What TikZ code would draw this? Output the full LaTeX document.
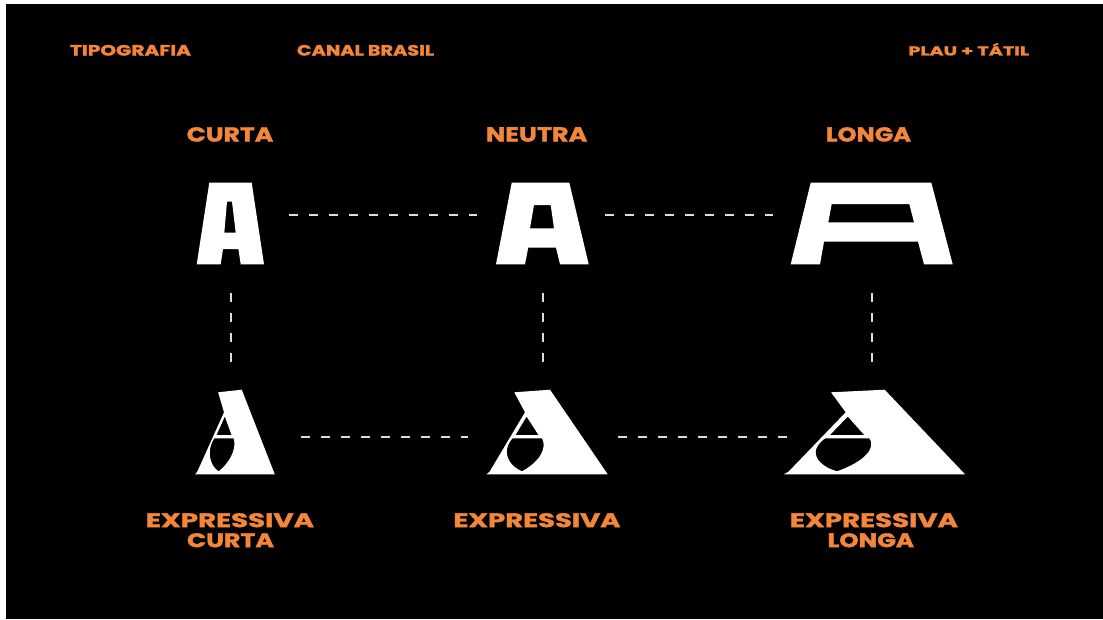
\documentclass[tikz,border=0pt]{standalone}
\usepackage{fontspec}
\usepackage{graphicx}
\newfontfamily\labfont{Poppins}[BoldFeatures={FakeBold=1.5}]
\definecolor{orng}{RGB}{244,134,58}
\definecolor{dashgray}{RGB}{222,222,222}
\newcommand\fitlbl[3]{\resizebox{#1}{#2}{\labfont\bfseries #3}}
\newcommand\expressiveA{%
  \path[glyph] (514.3,392.3) -- (550,389.7) -- (607.7,474.3) -- (486.5,474.3) -- (489.5,471.8) -- (525,412.3) -- cycle
    (526.6,416.5) -- (538.5,435) -- (515.5,435) -- cycle
    (512.5,438.3) -- (542,438.3) .. controls (547,447) and (541,461) .. (522,471.3)
      .. controls (509.5,466) and (505.8,456) .. (507,449)
      .. controls (508,444) and (510.5,440.5) .. (512.5,438.3) -- cycle;}
\tikzset{
  lbl/.style={anchor=south, inner sep=0pt, outer sep=0pt, text=orng},
  glyph/.style={fill=white, draw=none, even odd rule},
  link/.style={draw=dashgray, line width=2.6pt, dash pattern=on 9pt off 11pt},
}
\begin{document}
\begin{tikzpicture}[x=1pt,y=-1pt]
\useasboundingbox (0,0) rectangle (1103,619);
\fill[white] (0,0) rectangle (1103,619);
\fill[black] (6,4) rectangle (1103,619);

% header labels
\node[lbl] (h1) at (130.5,55.7) {\fitlbl{121pt}{10.7pt}{TIPOGRAFIA}};
\node[lbl] (h2) at (365.5,55.7) {\fitlbl{137pt}{10.7pt}{CANAL BRASIL}};
\node[lbl] (h3) at (968.7,55.5) {\resizebox{120.7pt}{12.4pt}{\labfont\bfseries PLAU + TÁTIL}};

% column titles
\node[lbl] (tc) at (230,141.7) {\fitlbl{86.6pt}{14.4pt}{CURTA}};
\node[lbl] (tn) at (536.7,141.7) {\fitlbl{101.3pt}{14.4pt}{NEUTRA}};
\node[lbl] (tl) at (868.5,141.7) {\fitlbl{85pt}{14.4pt}{LONGA}};

% bottom labels
\node[lbl] (be1) at (230,527.3) {\fitlbl{168pt}{14pt}{EXPRESSIVA}};
\node[lbl] (be2) at (230.5,547.3) {\fitlbl{87pt}{14pt}{CURTA}};
\node[lbl] (bn1) at (537,527.3) {\fitlbl{167pt}{14pt}{EXPRESSIVA}};
\node[lbl] (bl1) at (874,527.3) {\fitlbl{168pt}{14pt}{EXPRESSIVA}};
\node[lbl] (bl2) at (870.8,547.3) {\fitlbl{86.4pt}{14pt}{LONGA}};

% top row glyphs (sans A)
\path[glyph] (209.3,182.7) -- (251.7,182.7) -- (264,264.3) -- (240.7,264.3) -- (238.4,249) -- (223,249) -- (220.7,264.3) -- (196.7,264.3) -- cycle
  (227,201.7) -- (232,201.7) -- (235.7,232.7) -- (224.3,232.7) -- cycle;
\path[glyph] (511.7,182.7) -- (569.3,182.7) -- (588.7,264.3) -- (560,264.3) -- (556,247.7) -- (528.2,247.7) -- (525,264.3) -- (496,264.3) -- cycle
  (534,205) -- (550.7,205) -- (554,228.3) -- (530,228.3) -- cycle;
\path[glyph] (810.7,182.7) -- (931.3,182.7) -- (952.7,264.3) -- (924,264.3) -- (918,241.7) -- (824,241.7) -- (820,264.3) -- (790.7,264.3) -- cycle
  (831.7,204) -- (909.3,204) -- (914,222.3) -- (828.3,222.3) -- cycle;

% bottom row glyphs (expressive A): one outline, stretched per width
\begin{scope}[cm={0.657,0,0.058,1,(-97.0,0)}]
  \expressiveA
\end{scope}
\expressiveA
\begin{scope}[cm={1.4955,0,0.07,1,(89.4,0)}]
  \expressiveA
\end{scope}

% connector end points
\coordinate (c1r) at (289,215);   \coordinate (n1l) at (477,215);
\coordinate (n1r) at (605,215);   \coordinate (l1l) at (773,215);
\coordinate (c1b) at (231,293);   \coordinate (c2t) at (231,362);
\coordinate (n1b) at (543,293);   \coordinate (n2t) at (543,362);
\coordinate (l1b) at (872,293);   \coordinate (l2t) at (872,362);
\coordinate (c2r) at (300.5,437); \coordinate (n2l) at (468,437);
\coordinate (n2r) at (618,437);   \coordinate (l2l) at (787,437);

\draw[link] (c1r) -- (n1l);
\draw[link] (n1r) -- (l1l);
\draw[link] (c1b) -- (c2t);
\draw[link] (n1b) -- (n2t);
\draw[link] (l1b) -- (l2t);
\draw[link] (c2r) -- (n2l);
\draw[link] (n2r) -- (l2l);
\end{tikzpicture}
\end{document}
